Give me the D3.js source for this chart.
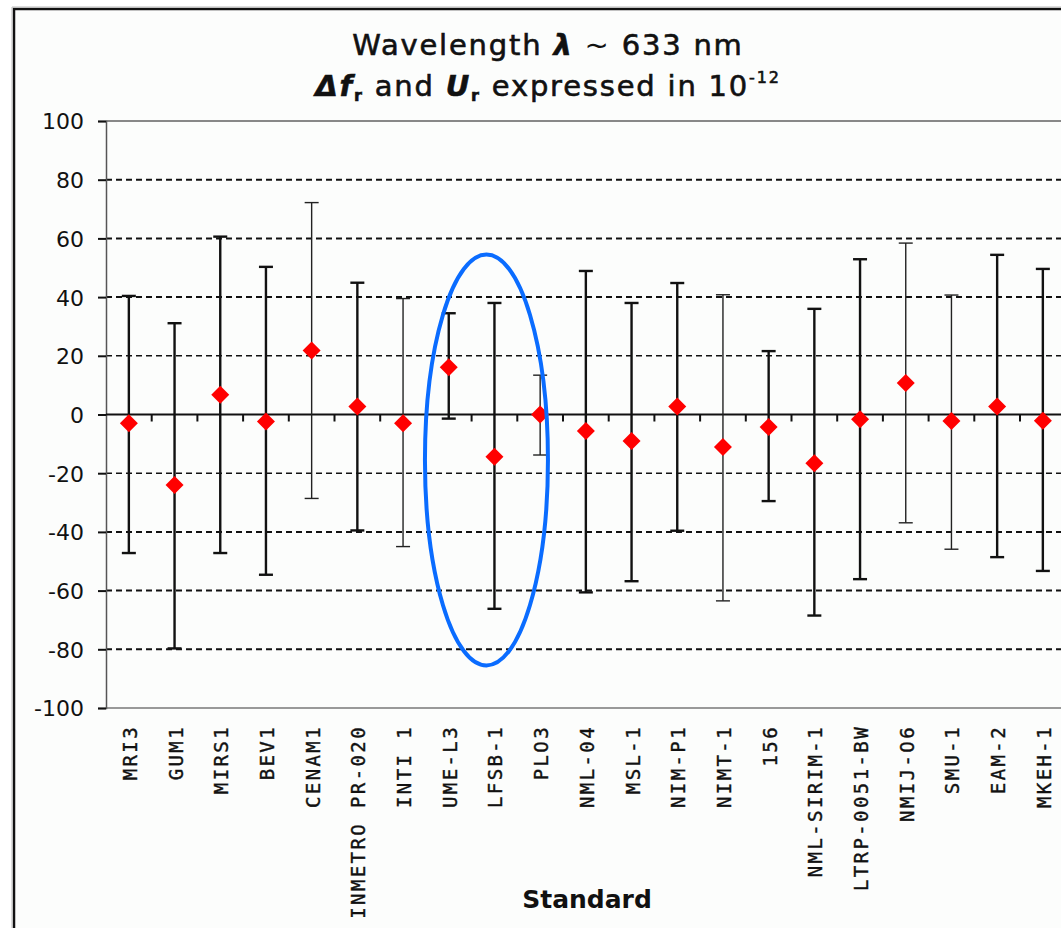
<!DOCTYPE html>
<html>
<head>
<meta charset="utf-8">
<script src="https://cdn.jsdelivr.net/npm/d3@7/dist/d3.min.js"></script>
<style>
  html, body { margin: 0; padding: 0; background: #ffffff; }
  svg { display: block; }
</style>
</head>
<body>
<script>
// ---- data ----
const categories = ["MRI3", "GUM1", "MIRS1", "BEV1", "CENAM1", "INMETRO PR-020", "INTI 1", "UME-L3", "LFSB-1", "PLO3",
  "NML-04", "MSL-1", "NIM-P1", "NIMT-1", "156", "NML-SIRIM-1", "LTRP-0051-BW", "NMIJ-O6", "SMU-1", "EAM-2", "MKEH-1"];
const values = [-3, -24, 6.7, -2.4, 21.8, 2.7, -3, 16.1, -14.4, 0, -5.6, -9, 2.7, -11.1, -4.3, -16.6, -1.6, 10.7, -2.2, 2.7, -2.1];
const upper  = [40.4, 31.1, 60.6, 50.3, 72.2, 44.9, 39.5, 34.5, 38, 13.4, 48.9, 38, 44.8, 40.8, 21.6, 36, 52.9, 58.4, 40.7, 54.4, 49.6];
const lower  = [-47.2, -79.7, -47.2, -54.6, -28.6, -39.5, -45, -1.4, -66.2, -13.8, -60.6, -56.8, -39.6, -63.5, -29.5, -68.5, -56.1, -36.9, -45.9, -48.6, -53.3];
const yTicks = [-100, -80, -60, -40, -20, 0, 20, 40, 60, 80, 100];
const highlighted = ["UME-L3", "LFSB-1", "PLO3"];

// ---- layout / style ----
const W = 1061, H = 928;
const thinBars = new Set(["CENAM1", "INTI 1", "PLO3", "NIMT-1", "NMIJ-O6", "SMU-1"]);
const plotLeft = 106, plotTop = 121, plotBottom = 708, band = 45.7;
const FONT = "DejaVu Sans, Verdana, sans-serif";

const svg = d3.select("body").append("svg").attr("width", W).attr("height", H);
svg.append("rect").attr("width", W).attr("height", H).attr("fill", "#ffffff");

// outer chart frame
svg.append("rect").attr("x", 14).attr("y", 9).attr("width", W + 20).attr("height", H + 20)
  .attr("fill", "#fcfdfc").attr("stroke", "#111").attr("stroke-width", 2.5);
svg.append("path").attr("d", `M12,${H}V7H${W}`).attr("fill", "none").attr("stroke", "#bbb").attr("stroke-width", 1);

const x = d3.scaleBand().domain(categories).range([plotLeft, plotLeft + band * categories.length]).padding(0);
const y = d3.scaleLinear().domain([-100, 100]).range([plotBottom, plotTop]);
const cx = d => x(d) + x.bandwidth() / 2;

// plot area border (top/bottom gray)
svg.append("line").attr("x1", plotLeft).attr("x2", W).attr("y1", y(100)).attr("y2", y(100))
  .attr("stroke", "#888").attr("stroke-width", 2);
svg.append("line").attr("x1", plotLeft).attr("x2", W).attr("y1", y(-100)).attr("y2", y(-100))
  .attr("stroke", "#999").attr("stroke-width", 2);

// dashed gridlines
svg.append("g").selectAll("line")
  .data(yTicks.filter(v => v !== 0 && Math.abs(v) !== 100))
  .join("line")
  .attr("x1", plotLeft).attr("x2", W)
  .attr("y1", d => y(d)).attr("y2", d => y(d))
  .attr("stroke", "#111")
  .attr("stroke-width", d => Math.abs(d) === 20 ? 1.4 : 2)
  .attr("stroke-dasharray", "6,4");

// y axis
const yAxis = d3.axisLeft(y).tickValues(yTicks).tickSize(8).tickPadding(14).tickFormat(d => String(d));
const gy = svg.append("g").attr("transform", `translate(${plotLeft},0)`).call(yAxis);
gy.select(".domain").attr("stroke", "#555").attr("stroke-width", 1.5);
gy.selectAll(".tick line").attr("stroke", "#111").attr("stroke-width", 2);
gy.selectAll(".tick text").attr("font-family", FONT).attr("font-size", 22)
  .attr("fill", "#111").attr("dy", "0.36em");

// zero line with category ticks
svg.append("line").attr("x1", plotLeft).attr("x2", W).attr("y1", y(0)).attr("y2", y(0))
  .attr("stroke", "#111").attr("stroke-width", 2);
svg.append("g").selectAll("line")
  .data(categories.slice(1))
  .join("line")
  .attr("x1", d => x(d)).attr("x2", d => x(d))
  .attr("y1", y(0)).attr("y2", y(0) + 7)
  .attr("stroke", "#111").attr("stroke-width", 2);

// error bars
const rows = categories.map((c, i) => ({ c, v: values[i], hi: upper[i], lo: lower[i] }));
const eb = svg.append("g").selectAll("g").data(rows).join("g")
  .attr("stroke", d => thinBars.has(d.c) ? "#222" : "#111")
  .attr("stroke-width", d => thinBars.has(d.c) ? 1.4 : 2.4);
eb.append("line").attr("x1", d => cx(d.c)).attr("x2", d => cx(d.c))
  .attr("y1", d => y(d.hi)).attr("y2", d => y(d.lo));
eb.append("line").attr("x1", d => cx(d.c) - 7).attr("x2", d => cx(d.c) + 7)
  .attr("y1", d => y(d.hi)).attr("y2", d => y(d.hi));
eb.append("line").attr("x1", d => cx(d.c) - 7).attr("x2", d => cx(d.c) + 7)
  .attr("y1", d => y(d.lo)).attr("y2", d => y(d.lo));

// markers
const diamond = "M0,-9L9,0L0,9L-9,0Z";
svg.append("g").selectAll("path").data(rows).join("path")
  .attr("d", diamond)
  .attr("transform", d => `translate(${cx(d.c)},${y(d.v)})`)
  .attr("fill", "#ff0000");

// x category labels
svg.append("g").selectAll("text").data(categories).join("text")
  .attr("transform", d => `translate(${cx(d) + 8},${725}) rotate(-90)`)
  .attr("text-anchor", "end")
  .attr("font-family", "DejaVu Sans Mono, monospace")
  .attr("font-size", 19)
  .attr("letter-spacing", "2.4px")
  .attr("stroke", "#111").attr("stroke-width", 0.4)
  .attr("fill", "#111")
  .text(d => d);

// highlight ellipse around selected standards
const hx0 = cx(highlighted[0]), hx1 = cx(highlighted[highlighted.length - 1]);
svg.append("ellipse")
  .attr("cx", (hx0 + hx1) / 2 - 8)
  .attr("cy", (y(54.5) + y(-85.5)) / 2)
  .attr("rx", 61.5)
  .attr("ry", (y(-85.5) - y(54.5)) / 2)
  .attr("fill", "none").attr("stroke", "#0a6cff").attr("stroke-width", 4);

// titles
const title = svg.append("text").attr("x", 548).attr("y", 55).attr("text-anchor", "middle")
  .attr("font-family", FONT).attr("font-size", 29).attr("letter-spacing", "1.8px")
  .attr("stroke", "#111").attr("stroke-width", 0.6)
  .attr("fill", "#111");
title.append("tspan").text("Wavelength ");
title.append("tspan").attr("font-style", "italic").attr("font-weight", "bold").text("λ");
title.append("tspan").attr("stroke-width", 0).text(" ~ ");
title.append("tspan").text("633 nm");

const t2 = svg.append("text").attr("x", 548).attr("y", 96).attr("text-anchor", "middle")
  .attr("font-family", FONT).attr("font-size", 29).attr("letter-spacing", "1.8px")
  .attr("stroke", "#111").attr("stroke-width", 0.6)
  .attr("fill", "#111");
t2.append("tspan").attr("font-style", "italic").attr("font-weight", "bold").text("Δf");
t2.append("tspan").attr("font-size", 16).attr("font-weight", "bold").attr("dy", 5).text("r");
t2.append("tspan").attr("dy", -5).text(" and ");
t2.append("tspan").attr("font-style", "italic").attr("font-weight", "bold").text("U");
t2.append("tspan").attr("font-size", 16).attr("font-weight", "bold").attr("dy", 5).text("r");
t2.append("tspan").attr("dy", -5).text(" expressed in 10");
t2.append("tspan").attr("font-size", 16).attr("dy", -13).text("-12");

svg.append("text").attr("x", 587).attr("y", 908).attr("text-anchor", "middle")
  .attr("font-family", FONT).attr("font-size", 25).attr("font-weight", "bold")
  .attr("fill", "#111").text("Standard");
</script>
</body>
</html>
